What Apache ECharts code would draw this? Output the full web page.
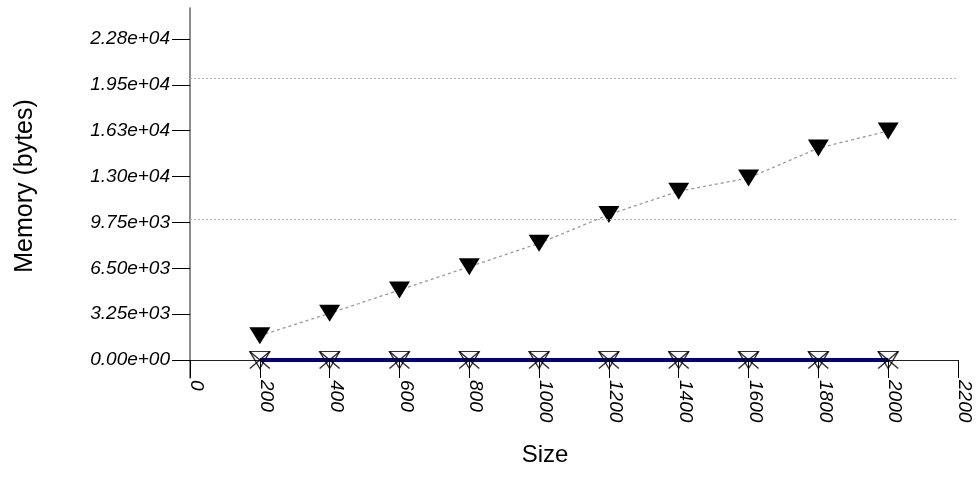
<!DOCTYPE html>
<html>
<head>
<meta charset="utf-8">
<script src="https://cdn.jsdelivr.net/npm/echarts@6/dist/echarts.min.js"></script>
<style>
html,body{margin:0;padding:0;background:#fff;}
#chart{width:976px;height:492px;}
</style>
</head>
<body>
<div id="chart"></div>
<script>
// ---- data ----
var sizes = [200, 400, 600, 800, 1000, 1200, 1400, 1600, 1800, 2000];
var memoryA = [1720, 3310, 4960, 6610, 8270, 10310, 11960, 12900, 15020, 16230];
var memoryB = [0, 0, 0, 0, 0, 0, 0, 0, 0, 0];
var memoryC = [0, 0, 0, 0, 0, 0, 0, 0, 0, 0];
var memoryD = [0, 0, 0, 0, 0, 0, 0, 0, 0, 0];
var yTickValues = [0, 3250, 6500, 9750, 13000, 16250, 19500, 22750];
var gridValues = [10000, 20000];
var xTitle = 'Size';
var yTitle = 'Memory (bytes)';

function pairs(xs, ys) { return xs.map(function (x, i) { return [x, ys[i]]; }); }
function expFmt(v) {
  var s = Number(v).toExponential(2);
  var m = s.match(/^(-?[\d.]+)e([+-])(\d+)$/);
  if (!m) return s;
  var e = m[3].length < 2 ? '0' + m[3] : m[3];
  return m[1] + 'e' + m[2] + e;
}

var FONT = "'Liberation Sans', Arial, Helvetica, sans-serif";
var chart = echarts.init(document.getElementById('chart'), null, {renderer: 'canvas'});

var option = {
  backgroundColor: '#ffffff',
  animation: false,
  grid: {left: 190, right: 18, top: 8, bottom: 114, containLabel: false},
  graphic: [
    {type: 'text', x: 25, y: 186, rotation: Math.PI / 2,
     style: {text: yTitle, font: '25px ' + FONT, fill: '#000', align: 'center', verticalAlign: 'middle'}},
    {type: 'text', x: 545, y: 455,
     style: {text: xTitle, font: '24px ' + FONT, fill: '#000', align: 'center', verticalAlign: 'middle'}}
  ],
  xAxis: {
    type: 'value', min: 0, max: 2200, interval: 200,
    axisLine: {show: true, onZero: true, lineStyle: {color: '#222', width: 1}},
    axisTick: {show: true, inside: false, length: 18, lineStyle: {color: '#000', width: 1}},
    axisLabel: {show: true, rotate: -90, margin: 2, fontSize: 19, lineHeight: 13, fontStyle: 'italic', fontFamily: FONT,
                color: '#000', verticalAlign: 'bottom', hideOverlap: false, showMinLabel: true, showMaxLabel: true,
                formatter: function (v) { return String(v); }},
    splitLine: {show: false}
  },
  yAxis: {
    type: 'value', min: -1275, max: 24950,
    axisLine: {show: true, lineStyle: {color: '#666', width: 1.5}},
    axisTick: {show: true, inside: false, length: 18, customValues: yTickValues, lineStyle: {color: '#000', width: 1}},
    axisLabel: {show: true, margin: 20, fontSize: 19, fontStyle: 'italic', fontFamily: FONT, color: '#000',
                customValues: yTickValues, formatter: expFmt, hideOverlap: false},
    splitLine: {show: false}
  },
  series: [
    {
      type: 'line', data: pairs(sizes, memoryA), z: 3,
      symbol: 'triangle', symbolRotate: 180, symbolSize: [21, 17],
      itemStyle: {color: '#000', borderColor: '#000', borderWidth: 0},
      lineStyle: {color: '#999', width: 1.3, type: [3, 3]},
      markLine: {
        silent: true, symbol: 'none', label: {show: false}, animation: false,
        lineStyle: {color: '#b0b0b0', width: 1, type: [2, 2]},
        data: gridValues.map(function (v) { return {yAxis: v}; })
      }
    },
    {
      type: 'line', data: pairs(sizes, memoryB), z: 4, symbol: 'none',
      lineStyle: {color: '#000080', width: 4}
    },
    {
      type: 'scatter', data: pairs(sizes, memoryC), z: 5,
      symbol: 'triangle', symbolRotate: 180, symbolSize: [20, 17],
      itemStyle: {color: 'rgba(255,255,255,0)', borderColor: '#000', borderWidth: 1.3}
    },
    {
      type: 'scatter', data: pairs(sizes, memoryD), z: 6,
      symbol: 'path://M0,0L10,10M10,0L0,10', symbolSize: [20, 17], symbolKeepAspect: false,
      itemStyle: {color: 'rgba(255,255,255,0)', borderColor: '#000', borderWidth: 1.3}
    }
  ]
};
chart.setOption(option);
</script>
</body>
</html>
